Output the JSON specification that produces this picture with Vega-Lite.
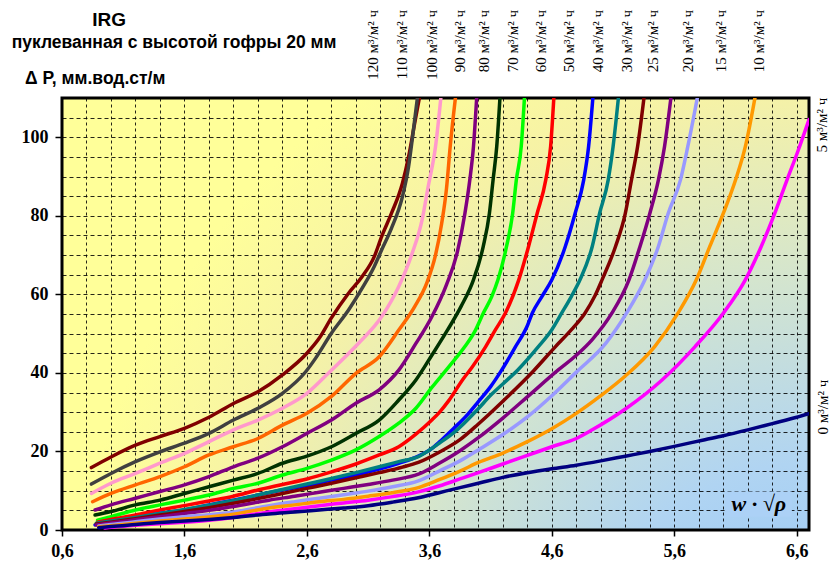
{
  "$schema": "https://vega.github.io/schema/vega-lite/v6.json",
  "width": 747,
  "height": 432,
  "autosize": {"type": "none"},
  "padding": {"left": 62, "top": 98, "right": 24, "bottom": 40},
  "background": "#ffffff",
  "config": {
    "font": "Liberation Sans",
    "view": {
      "stroke": "#000000",
      "strokeWidth": 3,
      "fill": {
        "gradient": "radial",
        "x1": 1, "y1": 1, "r1": 0,
        "x2": 1, "y2": 1, "r2": 1,
        "stops": [
          {"offset": 0, "color": "#8EC3FA"},
          {"offset": 0.3, "color": "#B0D4F2"},
          {"offset": 0.55, "color": "#D4E5CE"},
          {"offset": 0.8, "color": "#F6F2A6"},
          {"offset": 1, "color": "#FFFF99"}
        ]
      }
    }
  },
  "datasets": {
    "curves": [
      {"s":"120","x":0.84,"y":15.9},{"s":"120","x":1.0,"y":18.6},{"s":"120","x":1.2,"y":21.6},{"s":"120","x":1.4,"y":23.8},{"s":"120","x":1.6,"y":25.9},{"s":"120","x":1.8,"y":28.7},{"s":"120","x":2.0,"y":32.2},{"s":"120","x":2.2,"y":35.2},{"s":"120","x":2.4,"y":39.5},{"s":"120","x":2.6,"y":45.0},{"s":"120","x":2.7,"y":48.8},{"s":"120","x":2.8,"y":54.0},{"s":"120","x":2.94,"y":60.3},{"s":"120","x":3.05,"y":64.5},{"s":"120","x":3.15,"y":69.6},{"s":"120","x":3.21,"y":74.7},{"s":"120","x":3.29,"y":80.6},{"s":"120","x":3.38,"y":88.3},{"s":"120","x":3.43,"y":95.0},{"s":"120","x":3.48,"y":103.6},{"s":"120","x":3.53,"y":112},
      {"s":"110","x":0.84,"y":11.7},{"s":"110","x":1.0,"y":14.4},{"s":"110","x":1.2,"y":17.4},{"s":"110","x":1.4,"y":19.9},{"s":"110","x":1.6,"y":22.1},{"s":"110","x":1.8,"y":24.6},{"s":"110","x":2.0,"y":28.0},{"s":"110","x":2.2,"y":31.0},{"s":"110","x":2.4,"y":34.8},{"s":"110","x":2.59,"y":40.3},{"s":"110","x":2.67,"y":43.7},{"s":"110","x":2.8,"y":50.1},{"s":"110","x":2.94,"y":56.0},{"s":"110","x":3.05,"y":61.5},{"s":"110","x":3.15,"y":67.1},{"s":"110","x":3.21,"y":71.3},{"s":"110","x":3.29,"y":76.8},{"s":"110","x":3.38,"y":84.9},{"s":"110","x":3.43,"y":92.5},{"s":"110","x":3.47,"y":101.9},{"s":"110","x":3.51,"y":112},
      {"s":"100","x":0.84,"y":9.3},{"s":"100","x":1.0,"y":11.9},{"s":"100","x":1.2,"y":14.4},{"s":"100","x":1.4,"y":17.0},{"s":"100","x":1.6,"y":19.5},{"s":"100","x":1.8,"y":22.5},{"s":"100","x":2.0,"y":25.5},{"s":"100","x":2.2,"y":28.0},{"s":"100","x":2.4,"y":31.0},{"s":"100","x":2.6,"y":34.8},{"s":"100","x":2.8,"y":40.7},{"s":"100","x":3.02,"y":47.5},{"s":"100","x":3.21,"y":54.3},{"s":"100","x":3.35,"y":62.0},{"s":"100","x":3.46,"y":70.5},{"s":"100","x":3.54,"y":78.9},{"s":"100","x":3.59,"y":87.4},{"s":"100","x":3.65,"y":97.6},{"s":"100","x":3.7,"y":112},
      {"s":"90","x":0.85,"y":7.2},{"s":"90","x":1.0,"y":9.3},{"s":"90","x":1.2,"y":11.5},{"s":"90","x":1.4,"y":13.6},{"s":"90","x":1.6,"y":16.1},{"s":"90","x":1.8,"y":19.1},{"s":"90","x":2.0,"y":21.2},{"s":"90","x":2.2,"y":23.3},{"s":"90","x":2.4,"y":26.7},{"s":"90","x":2.6,"y":29.7},{"s":"90","x":2.8,"y":34.0},{"s":"90","x":3.0,"y":39.9},{"s":"90","x":3.19,"y":44.1},{"s":"90","x":3.35,"y":50.9},{"s":"90","x":3.48,"y":56.9},{"s":"90","x":3.58,"y":63.0},{"s":"90","x":3.65,"y":70.0},{"s":"90","x":3.7,"y":78.0},{"s":"90","x":3.74,"y":87.0},{"s":"90","x":3.77,"y":97.6},{"s":"90","x":3.82,"y":112},
      {"s":"80","x":0.87,"y":5.1},{"s":"80","x":1.0,"y":6.4},{"s":"80","x":1.2,"y":8.1},{"s":"80","x":1.4,"y":9.8},{"s":"80","x":1.6,"y":11.5},{"s":"80","x":1.8,"y":13.6},{"s":"80","x":2.0,"y":16.1},{"s":"80","x":2.2,"y":18.3},{"s":"80","x":2.4,"y":21.2},{"s":"80","x":2.6,"y":24.6},{"s":"80","x":2.8,"y":28.0},{"s":"80","x":3.0,"y":32.3},{"s":"80","x":3.19,"y":35.7},{"s":"80","x":3.35,"y":40.7},{"s":"80","x":3.49,"y":47.5},{"s":"80","x":3.62,"y":54.3},{"s":"80","x":3.74,"y":62.5},{"s":"80","x":3.83,"y":71.0},{"s":"80","x":3.89,"y":80.6},{"s":"80","x":3.93,"y":89.1},{"s":"80","x":3.96,"y":97.6},{"s":"80","x":3.99,"y":112},
      {"s":"70","x":0.87,"y":3.8},{"s":"70","x":1.0,"y":4.7},{"s":"70","x":1.2,"y":6.4},{"s":"70","x":1.4,"y":7.6},{"s":"70","x":1.6,"y":9.3},{"s":"70","x":1.8,"y":11.0},{"s":"70","x":2.0,"y":12.7},{"s":"70","x":2.2,"y":14.4},{"s":"70","x":2.4,"y":17.0},{"s":"70","x":2.6,"y":18.8},{"s":"70","x":2.8,"y":21.2},{"s":"70","x":3.0,"y":24.6},{"s":"70","x":3.19,"y":28.0},{"s":"70","x":3.35,"y":33.1},{"s":"70","x":3.49,"y":38.2},{"s":"70","x":3.62,"y":44.5},{"s":"70","x":3.75,"y":51.0},{"s":"70","x":3.86,"y":57.0},{"s":"70","x":3.96,"y":63.7},{"s":"70","x":4.04,"y":72.2},{"s":"70","x":4.09,"y":80.6},{"s":"70","x":4.12,"y":89.1},{"s":"70","x":4.15,"y":97.6},{"s":"70","x":4.18,"y":112},
      {"s":"60","x":0.89,"y":2.5},{"s":"60","x":1.0,"y":3.4},{"s":"60","x":1.2,"y":5.1},{"s":"60","x":1.4,"y":6.4},{"s":"60","x":1.6,"y":7.6},{"s":"60","x":1.8,"y":8.9},{"s":"60","x":2.0,"y":10.6},{"s":"60","x":2.2,"y":11.9},{"s":"60","x":2.4,"y":14.0},{"s":"60","x":2.6,"y":15.7},{"s":"60","x":2.8,"y":17.8},{"s":"60","x":3.0,"y":20.4},{"s":"60","x":3.19,"y":23.8},{"s":"60","x":3.35,"y":27.2},{"s":"60","x":3.49,"y":31.0},{"s":"60","x":3.62,"y":36.3},{"s":"60","x":3.76,"y":41.6},{"s":"60","x":3.89,"y":46.7},{"s":"60","x":3.97,"y":50.5},{"s":"60","x":4.04,"y":55.2},{"s":"60","x":4.11,"y":59.5},{"s":"60","x":4.16,"y":63.7},{"s":"60","x":4.23,"y":72.2},{"s":"60","x":4.28,"y":80.6},{"s":"60","x":4.31,"y":89.1},{"s":"60","x":4.35,"y":97.6},{"s":"60","x":4.38,"y":112},
      {"s":"50","x":0.89,"y":2.0},{"s":"50","x":1.0,"y":2.7},{"s":"50","x":1.2,"y":3.8},{"s":"50","x":1.4,"y":5.1},{"s":"50","x":1.6,"y":6.2},{"s":"50","x":1.8,"y":7.4},{"s":"50","x":2.0,"y":8.6},{"s":"50","x":2.2,"y":10.2},{"s":"50","x":2.4,"y":11.6},{"s":"50","x":2.6,"y":13.0},{"s":"50","x":2.8,"y":14.8},{"s":"50","x":3.0,"y":16.8},{"s":"50","x":3.19,"y":19.1},{"s":"50","x":3.35,"y":21.2},{"s":"50","x":3.49,"y":24.4},{"s":"50","x":3.62,"y":28.0},{"s":"50","x":3.68,"y":29.9},{"s":"50","x":3.76,"y":33.0},{"s":"50","x":3.87,"y":38.2},{"s":"50","x":3.95,"y":41.5},{"s":"50","x":4.06,"y":46.7},{"s":"50","x":4.14,"y":51.0},{"s":"50","x":4.22,"y":55.2},{"s":"50","x":4.33,"y":63.7},{"s":"50","x":4.41,"y":72.2},{"s":"50","x":4.48,"y":80.6},{"s":"50","x":4.55,"y":89.1},{"s":"50","x":4.59,"y":97.6},{"s":"50","x":4.62,"y":112},
      {"s":"40","x":0.87,"y":1.3},{"s":"40","x":1.0,"y":2.1},{"s":"40","x":1.2,"y":3.0},{"s":"40","x":1.4,"y":4.2},{"s":"40","x":1.6,"y":5.1},{"s":"40","x":1.8,"y":6.4},{"s":"40","x":2.0,"y":7.6},{"s":"40","x":2.2,"y":8.9},{"s":"40","x":2.4,"y":10.2},{"s":"40","x":2.6,"y":11.3},{"s":"40","x":2.8,"y":12.7},{"s":"40","x":3.0,"y":14.0},{"s":"40","x":3.19,"y":15.5},{"s":"40","x":3.35,"y":17.0},{"s":"40","x":3.51,"y":18.8},{"s":"40","x":3.63,"y":21.0},{"s":"40","x":3.7,"y":22.9},{"s":"40","x":3.8,"y":25.9},{"s":"40","x":3.9,"y":29.0},{"s":"40","x":4.0,"y":32.7},{"s":"40","x":4.1,"y":36.5},{"s":"40","x":4.19,"y":40.7},{"s":"40","x":4.3,"y":46.5},{"s":"40","x":4.4,"y":52.0},{"s":"40","x":4.44,"y":55.2},{"s":"40","x":4.52,"y":59.5},{"s":"40","x":4.6,"y":63.7},{"s":"40","x":4.71,"y":72.2},{"s":"40","x":4.79,"y":80.6},{"s":"40","x":4.86,"y":89.1},{"s":"40","x":4.9,"y":97.6},{"s":"40","x":4.94,"y":112},
      {"s":"30","x":0.88,"y":1.7},{"s":"30","x":1.0,"y":2.3},{"s":"30","x":1.2,"y":3.2},{"s":"30","x":1.4,"y":4.2},{"s":"30","x":1.6,"y":5.2},{"s":"30","x":1.8,"y":6.3},{"s":"30","x":2.0,"y":7.5},{"s":"30","x":2.2,"y":8.9},{"s":"30","x":2.4,"y":10.3},{"s":"30","x":2.6,"y":11.7},{"s":"30","x":2.8,"y":13.1},{"s":"30","x":3.0,"y":14.6},{"s":"30","x":3.19,"y":16.1},{"s":"30","x":3.35,"y":17.4},{"s":"30","x":3.51,"y":18.7},{"s":"30","x":3.68,"y":22.1},{"s":"30","x":3.8,"y":24.8},{"s":"30","x":4.0,"y":30.9},{"s":"30","x":4.1,"y":34.3},{"s":"30","x":4.2,"y":37.2},{"s":"30","x":4.32,"y":40.7},{"s":"30","x":4.49,"y":46.7},{"s":"30","x":4.6,"y":51.0},{"s":"30","x":4.68,"y":55.2},{"s":"30","x":4.76,"y":59.5},{"s":"30","x":4.83,"y":63.7},{"s":"30","x":4.93,"y":72.2},{"s":"30","x":4.99,"y":80.6},{"s":"30","x":5.06,"y":89.1},{"s":"30","x":5.1,"y":97.6},{"s":"30","x":5.15,"y":112},
      {"s":"25","x":0.88,"y":1.5},{"s":"25","x":1.0,"y":2.0},{"s":"25","x":1.2,"y":2.9},{"s":"25","x":1.4,"y":3.8},{"s":"25","x":1.6,"y":4.7},{"s":"25","x":1.8,"y":5.7},{"s":"25","x":2.0,"y":6.8},{"s":"25","x":2.2,"y":8.0},{"s":"25","x":2.4,"y":9.3},{"s":"25","x":2.6,"y":10.6},{"s":"25","x":2.8,"y":11.9},{"s":"25","x":3.0,"y":13.3},{"s":"25","x":3.19,"y":14.6},{"s":"25","x":3.38,"y":16.0},{"s":"25","x":3.51,"y":17.2},{"s":"25","x":3.68,"y":19.8},{"s":"25","x":3.85,"y":23.0},{"s":"25","x":4.0,"y":27.0},{"s":"25","x":4.2,"y":32.8},{"s":"25","x":4.45,"y":40.5},{"s":"25","x":4.63,"y":46.7},{"s":"25","x":4.76,"y":51.0},{"s":"25","x":4.87,"y":55.2},{"s":"25","x":4.95,"y":59.5},{"s":"25","x":5.01,"y":63.7},{"s":"25","x":5.12,"y":72.2},{"s":"25","x":5.2,"y":80.6},{"s":"25","x":5.25,"y":89.1},{"s":"25","x":5.3,"y":97.6},{"s":"25","x":5.36,"y":112},
      {"s":"20","x":0.88,"y":1.3},{"s":"20","x":1.0,"y":1.8},{"s":"20","x":1.2,"y":2.6},{"s":"20","x":1.4,"y":3.4},{"s":"20","x":1.6,"y":4.2},{"s":"20","x":1.8,"y":5.0},{"s":"20","x":2.0,"y":6.0},{"s":"20","x":2.29,"y":7.6},{"s":"20","x":2.5,"y":8.6},{"s":"20","x":2.7,"y":9.6},{"s":"20","x":2.9,"y":10.6},{"s":"20","x":3.1,"y":11.6},{"s":"20","x":3.3,"y":12.7},{"s":"20","x":3.51,"y":14.2},{"s":"20","x":3.68,"y":17.0},{"s":"20","x":3.85,"y":20.2},{"s":"20","x":4.0,"y":23.5},{"s":"20","x":4.2,"y":28.5},{"s":"20","x":4.4,"y":33.9},{"s":"20","x":4.65,"y":40.7},{"s":"20","x":4.8,"y":44.5},{"s":"20","x":4.93,"y":48.5},{"s":"20","x":5.09,"y":55.2},{"s":"20","x":5.23,"y":63.7},{"s":"20","x":5.32,"y":72.2},{"s":"20","x":5.4,"y":80.6},{"s":"20","x":5.47,"y":89.1},{"s":"20","x":5.52,"y":97.6},{"s":"20","x":5.58,"y":112},
      {"s":"15","x":0.9,"y":1.0},{"s":"15","x":1.0,"y":1.4},{"s":"15","x":1.2,"y":2.1},{"s":"15","x":1.4,"y":2.8},{"s":"15","x":1.6,"y":3.4},{"s":"15","x":1.8,"y":3.9},{"s":"15","x":2.0,"y":4.6},{"s":"15","x":2.29,"y":6.2},{"s":"15","x":2.5,"y":7.2},{"s":"15","x":2.7,"y":8.1},{"s":"15","x":2.9,"y":9.0},{"s":"15","x":3.1,"y":9.9},{"s":"15","x":3.3,"y":11.0},{"s":"15","x":3.51,"y":12.5},{"s":"15","x":3.68,"y":15.0},{"s":"15","x":3.85,"y":17.6},{"s":"15","x":4.0,"y":20.4},{"s":"15","x":4.2,"y":24.3},{"s":"15","x":4.4,"y":28.8},{"s":"15","x":4.6,"y":34.2},{"s":"15","x":4.8,"y":40.2},{"s":"15","x":5.04,"y":47.5},{"s":"15","x":5.21,"y":55.2},{"s":"15","x":5.36,"y":63.7},{"s":"15","x":5.47,"y":72.2},{"s":"15","x":5.55,"y":80.6},{"s":"15","x":5.65,"y":89.1},{"s":"15","x":5.71,"y":97.6},{"s":"15","x":5.8,"y":112},
      {"s":"10","x":0.9,"y":0.8},{"s":"10","x":1.0,"y":1.1},{"s":"10","x":1.2,"y":1.7},{"s":"10","x":1.4,"y":2.3},{"s":"10","x":1.6,"y":2.8},{"s":"10","x":1.8,"y":3.3},{"s":"10","x":2.0,"y":4.0},{"s":"10","x":2.29,"y":5.6},{"s":"10","x":2.5,"y":6.4},{"s":"10","x":2.7,"y":7.2},{"s":"10","x":2.9,"y":7.8},{"s":"10","x":3.1,"y":8.6},{"s":"10","x":3.3,"y":9.5},{"s":"10","x":3.51,"y":10.8},{"s":"10","x":3.68,"y":12.8},{"s":"10","x":3.85,"y":15.0},{"s":"10","x":4.0,"y":17.2},{"s":"10","x":4.2,"y":19.6},{"s":"10","x":4.4,"y":22.5},{"s":"10","x":4.6,"y":25.8},{"s":"10","x":4.8,"y":29.7},{"s":"10","x":5.0,"y":34.2},{"s":"10","x":5.2,"y":39.2},{"s":"10","x":5.44,"y":46.7},{"s":"10","x":5.63,"y":55.2},{"s":"10","x":5.78,"y":63.7},{"s":"10","x":5.89,"y":72.2},{"s":"10","x":6.0,"y":80.6},{"s":"10","x":6.1,"y":89.1},{"s":"10","x":6.18,"y":97.6},{"s":"10","x":6.27,"y":112},
      {"s":"5","x":0.95,"y":0.5},{"s":"5","x":1.0,"y":0.7},{"s":"5","x":1.2,"y":1.2},{"s":"5","x":1.4,"y":1.6},{"s":"5","x":1.6,"y":2.0},{"s":"5","x":1.8,"y":2.5},{"s":"5","x":2.0,"y":3.2},{"s":"5","x":2.29,"y":4.6},{"s":"5","x":2.5,"y":5.4},{"s":"5","x":2.7,"y":6.2},{"s":"5","x":2.9,"y":6.9},{"s":"5","x":3.1,"y":7.6},{"s":"5","x":3.3,"y":8.5},{"s":"5","x":3.51,"y":9.7},{"s":"5","x":3.68,"y":11.2},{"s":"5","x":3.85,"y":13.0},{"s":"5","x":4.0,"y":14.6},{"s":"5","x":4.2,"y":16.8},{"s":"5","x":4.4,"y":19.0},{"s":"5","x":4.6,"y":21.2},{"s":"5","x":4.8,"y":23.3},{"s":"5","x":4.93,"y":25.5},{"s":"5","x":5.2,"y":30.8},{"s":"5","x":5.5,"y":38.2},{"s":"5","x":5.77,"y":46.7},{"s":"5","x":6.0,"y":55.2},{"s":"5","x":6.18,"y":63.7},{"s":"5","x":6.31,"y":72.2},{"s":"5","x":6.42,"y":80.6},{"s":"5","x":6.52,"y":89.1},{"s":"5","x":6.61,"y":96.5},{"s":"5","x":6.7,"y":104.5},
      {"s":"0","x":0.9,"y":0.6},{"s":"0","x":1.0,"y":0.9},{"s":"0","x":1.2,"y":1.4},{"s":"0","x":1.4,"y":1.9},{"s":"0","x":1.6,"y":2.3},{"s":"0","x":1.8,"y":2.7},{"s":"0","x":2.0,"y":3.2},{"s":"0","x":2.29,"y":4.1},{"s":"0","x":2.5,"y":4.6},{"s":"0","x":2.7,"y":5.1},{"s":"0","x":2.9,"y":5.6},{"s":"0","x":3.1,"y":6.2},{"s":"0","x":3.3,"y":7.1},{"s":"0","x":3.51,"y":8.2},{"s":"0","x":3.68,"y":9.5},{"s":"0","x":3.85,"y":10.8},{"s":"0","x":4.0,"y":11.9},{"s":"0","x":4.2,"y":13.4},{"s":"0","x":4.4,"y":14.6},{"s":"0","x":4.6,"y":15.6},{"s":"0","x":4.8,"y":16.5},{"s":"0","x":5.0,"y":17.6},{"s":"0","x":5.2,"y":18.8},{"s":"0","x":5.4,"y":20.0},{"s":"0","x":5.6,"y":21.3},{"s":"0","x":5.85,"y":23.0},{"s":"0","x":6.0,"y":24.0},{"s":"0","x":6.2,"y":25.5},{"s":"0","x":6.4,"y":27.1},{"s":"0","x":6.6,"y":28.7},{"s":"0","x":6.7,"y":29.6}
    ],
    "toplabels": [
      {"label": "120 м³/м² ч", "lx": 3.14},
      {"label": "110 м³/м² ч", "lx": 3.38},
      {"label": "100 м³/м² ч", "lx": 3.62},
      {"label": "90 м³/м² ч", "lx": 3.85},
      {"label": "80 м³/м² ч", "lx": 4.05},
      {"label": "70 м³/м² ч", "lx": 4.28},
      {"label": "60 м³/м² ч", "lx": 4.51},
      {"label": "50 м³/м² ч", "lx": 4.74},
      {"label": "40 м³/м² ч", "lx": 4.98},
      {"label": "30 м³/м² ч", "lx": 5.21},
      {"label": "25 м³/м² ч", "lx": 5.43},
      {"label": "20 м³/м² ч", "lx": 5.71},
      {"label": "15 м³/м² ч", "lx": 5.98},
      {"label": "10 м³/м² ч", "lx": 6.29}
    ],
    "one": [{}]
  },
  "resolve": {"axis": {"x": "independent", "y": "independent"}},
  "layer": [
    {
      "data": {"name": "curves"},
      "mark": {"type": "line", "strokeWidth": 3.5, "clip": true, "strokeCap": "round", "interpolate": "monotone"},
      "encoding": {
        "x": {
          "field": "x", "type": "quantitative",
          "scale": {"domain": [0.6, 6.7], "nice": false, "zero": false},
          "axis": {
            "orient": "bottom",
            "values": [0.8,1,1.2,1.4,1.6,1.8,2,2.2,2.4,2.6,2.8,3,3.2,3.4,3.6,3.8,4,4.2,4.4,4.6,4.8,5,5.2,5.4,5.6,5.8,6,6.2,6.4,6.6],
            "grid": true, "gridColor": "#000000", "gridDash": [3, 3], "gridWidth": 1, "gridOpacity": 0.85,
            "labels": false, "ticks": false, "domain": false, "title": null
          }
        },
        "y": {
          "field": "y", "type": "quantitative",
          "scale": {"domain": [0, 110], "nice": false},
          "axis": {
            "orient": "left",
            "values": [5,10,15,20,25,30,35,40,45,50,55,60,65,70,75,80,85,90,95,100,105],
            "grid": true, "gridColor": "#000000", "gridDash": [4, 3], "gridWidth": 1, "gridOpacity": 0.85,
            "labels": false, "ticks": false, "domain": false, "title": null
          }
        },
        "color": {
          "field": "s", "type": "nominal",
          "scale": {
            "domain": ["120","110","100","90","80","70","60","50","40","30","25","20","15","10","5","0"],
            "range": ["#800000","#404040","#FF99CC","#FF6600","#800080","#003300","#00FF00","#FF0000","#0000FF","#008080","#800000","#800080","#9999FF","#FF9900","#FF00FF","#000080"]
          },
          "legend": null
        }
      }
    },
    {
      "data": {"name": "one"},
      "mark": {"type": "rect", "fill": "#ACD1F6"},
      "encoding": {
        "x": {
          "datum": 6.02, "type": "quantitative",
          "scale": {"domain": [0.6, 6.7], "nice": false, "zero": false},
          "axis": {
            "orient": "bottom",
            "values": [0.6, 1.6, 2.6, 3.6, 4.6, 5.6, 6.6],
            "format": ".1f",
            "labelExpr": "replace(datum.label, '.', ',')",
            "grid": false, "domain": false, "title": null,
            "ticks": true, "tickSize": 6, "tickWidth": 1.5, "tickColor": "#000000",
            "labelFont": "Liberation Serif", "labelFontWeight": "bold", "labelFontSize": 18, "labelColor": "#000000",
            "labelPadding": 6, "labelFlush": false, "labelOverlap": false, "labelBound": false
          }
        },
        "x2": {"datum": 6.56},
        "y": {
          "datum": 3.4, "type": "quantitative",
          "scale": {"domain": [0, 110], "nice": false},
          "axis": {
            "orient": "left",
            "values": [0, 20, 40, 60, 80, 100],
            "format": "d",
            "grid": false, "domain": false, "title": null,
            "ticks": true, "tickSize": 7, "tickWidth": 1.5, "tickColor": "#000000",
            "labelFont": "Liberation Serif", "labelFontWeight": "bold", "labelFontSize": 18, "labelColor": "#000000",
            "labelPadding": 7, "labelFlush": false, "labelOverlap": false, "labelBound": false
          }
        },
        "y2": {"datum": 9.8}
      }
    },
    {
      "data": {"name": "one"},
      "mark": {"type": "text", "font": "Liberation Serif", "fontSize": 22, "fontWeight": "bold", "fontStyle": "italic", "align": "center", "baseline": "middle", "color": "#000000"},
      "encoding": {
        "x": {"datum": 6.29, "type": "quantitative", "scale": {"domain": [0.6, 6.7], "nice": false, "zero": false}, "axis": null},
        "y": {"datum": 6.6, "type": "quantitative", "scale": {"domain": [0, 110], "nice": false}, "axis": null},
        "text": {"value": "w · √ρ"}
      }
    },
    {
      "data": {"name": "toplabels"},
      "mark": {"type": "text", "font": "Liberation Serif", "fontSize": 15, "angle": -90, "align": "right", "baseline": "middle", "color": "#000000"},
      "encoding": {
        "x": {"field": "lx", "type": "quantitative", "scale": {"domain": [0.6, 6.7], "nice": false, "zero": false}, "axis": null},
        "y": {"datum": 132.4, "type": "quantitative", "scale": {"domain": [0, 110], "nice": false}, "axis": null},
        "text": {"field": "label"}
      }
    },
    {
      "data": {"name": "one"},
      "mark": {"type": "text", "font": "Liberation Serif", "fontSize": 15, "angle": -90, "align": "center", "baseline": "middle", "color": "#000000"},
      "encoding": {
        "x": {"datum": 6.806, "type": "quantitative", "scale": {"domain": [0.6, 6.7], "nice": false, "zero": false}, "axis": null},
        "y": {"datum": 103.1, "type": "quantitative", "scale": {"domain": [0, 110], "nice": false}, "axis": null},
        "text": {"value": "5 м³/м² ч"}
      }
    },
    {
      "data": {"name": "one"},
      "mark": {"type": "text", "font": "Liberation Serif", "fontSize": 15, "angle": -90, "align": "center", "baseline": "middle", "color": "#000000"},
      "encoding": {
        "x": {"datum": 6.812, "type": "quantitative", "scale": {"domain": [0.6, 6.7], "nice": false, "zero": false}, "axis": null},
        "y": {"datum": 31.3, "type": "quantitative", "scale": {"domain": [0, 110], "nice": false}, "axis": null},
        "text": {"value": "0 м³/м² ч"}
      }
    },
    {
      "data": {"name": "one"},
      "mark": {"type": "text", "font": "Liberation Sans", "fontSize": 19, "fontWeight": "bold", "align": "center", "baseline": "middle", "color": "#000000"},
      "encoding": {
        "x": {"datum": 0.985, "type": "quantitative", "scale": {"domain": [0.6, 6.7], "nice": false, "zero": false}, "axis": null},
        "y": {"datum": 129.9, "type": "quantitative", "scale": {"domain": [0, 110], "nice": false}, "axis": null},
        "text": {"value": "IRG"}
      }
    },
    {
      "data": {"name": "one"},
      "mark": {"type": "text", "font": "Liberation Sans", "fontSize": 17.5, "fontWeight": "bold", "align": "center", "baseline": "middle", "color": "#000000"},
      "encoding": {
        "x": {"datum": 1.515, "type": "quantitative", "scale": {"domain": [0.6, 6.7], "nice": false, "zero": false}, "axis": null},
        "y": {"datum": 124.0, "type": "quantitative", "scale": {"domain": [0, 110], "nice": false}, "axis": null},
        "text": {"value": "пуклеванная с высотой гофры 20 мм"}
      }
    },
    {
      "data": {"name": "one"},
      "mark": {"type": "text", "font": "Liberation Sans", "fontSize": 17.5, "fontWeight": "bold", "align": "left", "baseline": "middle", "color": "#000000"},
      "encoding": {
        "x": {"datum": 0.298, "type": "quantitative", "scale": {"domain": [0.6, 6.7], "nice": false, "zero": false}, "axis": null},
        "y": {"datum": 114.8, "type": "quantitative", "scale": {"domain": [0, 110], "nice": false}, "axis": null},
        "text": {"value": "Δ P, мм.вод.ст/м"}
      }
    }
  ]
}
